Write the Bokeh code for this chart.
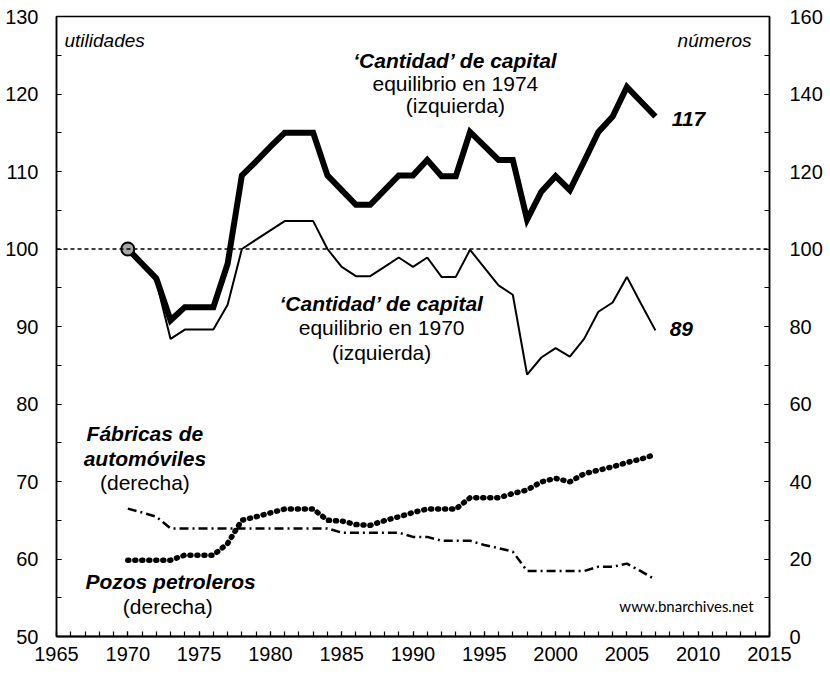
from bokeh.plotting import figure
from bokeh.models import Range1d, LinearAxis, SingleIntervalTicker, Span
from bokeh.core.properties import value
from bokeh.embed import file_html
from bokeh.resources import INLINE

years = list(range(1970, 2008))
cap1974 = [100.0, 98.1, 96.2, 90.8, 92.5, 92.5, 92.5, 98.1, 109.5, 111.3,
           113.2, 115.0, 115.0, 115.0, 109.5, 107.6, 105.7, 105.7, 107.6, 109.5,
           109.5, 111.5, 109.4, 109.4, 115.1, 113.3, 111.5, 111.5, 103.8, 107.4,
           109.4, 107.6, 111.3, 115.1, 117.1, 120.9, 119.0, 117.1]
cap1970 = [100.0, 98.0, 95.8, 88.4, 89.6, 89.6, 89.6, 92.8, 100.0, 101.2,
           102.4, 103.6, 103.6, 103.6, 100.0, 97.7, 96.5, 96.5, 97.7, 98.9,
           97.7, 98.9, 96.4, 96.4, 99.9, 97.6, 95.3, 94.1, 83.8, 86.0,
           87.2, 86.1, 88.4, 91.9, 93.1, 96.4, 92.9, 89.5]
autos = [19.7, 19.7, 19.7, 19.7, 21.0, 21.0, 21.0, 24.0, 30.0, 30.9,
         31.9, 32.9, 32.9, 32.9, 30.0, 29.8, 28.9, 28.7, 29.9, 30.9,
         32.0, 32.9, 32.9, 32.9, 35.8, 35.8, 35.8, 36.9, 37.8, 39.9,
         40.8, 39.9, 42.0, 42.9, 43.8, 44.9, 45.8, 47.0]
oil = [33.0, 32.0, 30.9, 27.9, 27.9, 27.9, 27.9, 27.9, 27.9, 27.9,
       27.9, 27.9, 27.9, 27.9, 27.9, 26.8, 26.8, 26.8, 26.8, 26.8,
       25.7, 25.7, 24.7, 24.7, 24.7, 23.6, 22.8, 21.9, 16.9, 16.9,
       16.9, 16.9, 16.9, 18.0, 18.0, 18.8, 16.8, 14.7]
base_value = 100

FONT = value("Liberation Sans")

p = figure(width=825, height=672, output_backend="svg", toolbar_location=None,
           x_range=Range1d(1965, 2015), y_range=Range1d(50, 130),
           min_border_left=56, min_border_right=54, min_border_top=16,
           min_border_bottom=36)
p.extra_y_ranges = {"right": Range1d(0, 160)}
p.xgrid.visible = False
p.ygrid.visible = False
p.outline_line_color = "black"
p.outline_line_width = 1.5
p.background_fill_color = "white"
p.border_fill_color = "white"

def style_axis(ax, interval, nminor, standoff):
    ax.ticker = SingleIntervalTicker(interval=interval, num_minor_ticks=nminor)
    ax.major_tick_in = 5
    ax.major_tick_out = 0
    ax.minor_tick_in = 5
    ax.minor_tick_out = 0
    ax.axis_line_color = "black"
    ax.axis_line_width = 1.5
    ax.major_tick_line_color = "black"
    ax.minor_tick_line_color = "black"
    ax.major_tick_line_width = 1.2
    ax.minor_tick_line_width = 1.2
    ax.major_label_text_font = "Liberation Sans"
    ax.major_label_text_font_size = "20px"
    ax.major_label_text_color = "black"
    ax.major_label_standoff = standoff

style_axis(p.xaxis[0], 5, 5, 10)
p.xaxis[0].axis_line_width = 2
style_axis(p.yaxis[0], 10, 2, 18)
right = LinearAxis(y_range_name="right")
style_axis(right, 20, 2, 20)
p.add_layout(right, "right")

p.add_layout(Span(location=base_value, dimension="width", line_color="black",
                  line_width=1.3, line_dash="4 3"))

p.line(years, oil, y_range_name="right", line_color="black", line_width=2.5,
       line_dash="9 4 2 4")
p.line(years, autos, y_range_name="right", line_color="black", line_width=5.5,
       line_dash="1 6", line_cap="round")
p.line(years, cap1970, line_color="black", line_width=2)
p.line(years, cap1974, line_color="black", line_width=6, line_join="miter")
p.scatter([years[0]], [cap1974[0]], size=13, fill_color="#a6a6a6",
          line_color="black", line_width=2)

def txt(x, y, s, style="normal", size="21px", align="center", font=FONT):
    p.text(x=[x], y=[y], text=[s], text_font=font, text_font_style=style,
           text_font_size=size, text_align=align, text_baseline="middle",
           text_color="black")

txt(1965.56, 126.9, "utilidades", "italic", "19px", "left")
txt(2013.74, 126.9, "números", "italic", "19px", "right")

txt(1992.97, 124.3, "\u2018Cantidad\u2019 de capital", "bold italic")
txt(1992.97, 121.35, "equilibrio en 1974")
txt(1992.97, 118.5, "(izquierda)")
txt(2008.15, 116.8, "117", "bold italic", "21px", "left")

txt(1987.8, 93.0, "\u2018Cantidad\u2019 de capital", "bold italic")
txt(1987.8, 89.9, "equilibrio en 1970")
txt(1987.8, 86.6, "(izquierda)")
txt(2008.0, 89.7, "89", "bold italic", "21px", "left")

txt(1971.2, 76.2, "Fábricas de", "bold italic")
txt(1971.2, 73.0, "automóviles", "bold italic")
txt(1971.2, 69.9, "(derecha)")
txt(1973.0, 57.1, "Pozos petroleros", "bold italic")
txt(1972.8, 53.9, "(derecha)")

txt(2013.88, 54.0, "www.bnarchives.net", "normal", "15px", "right", value("Lato"))

open("out.html", "w").write(file_html(p, INLINE))
